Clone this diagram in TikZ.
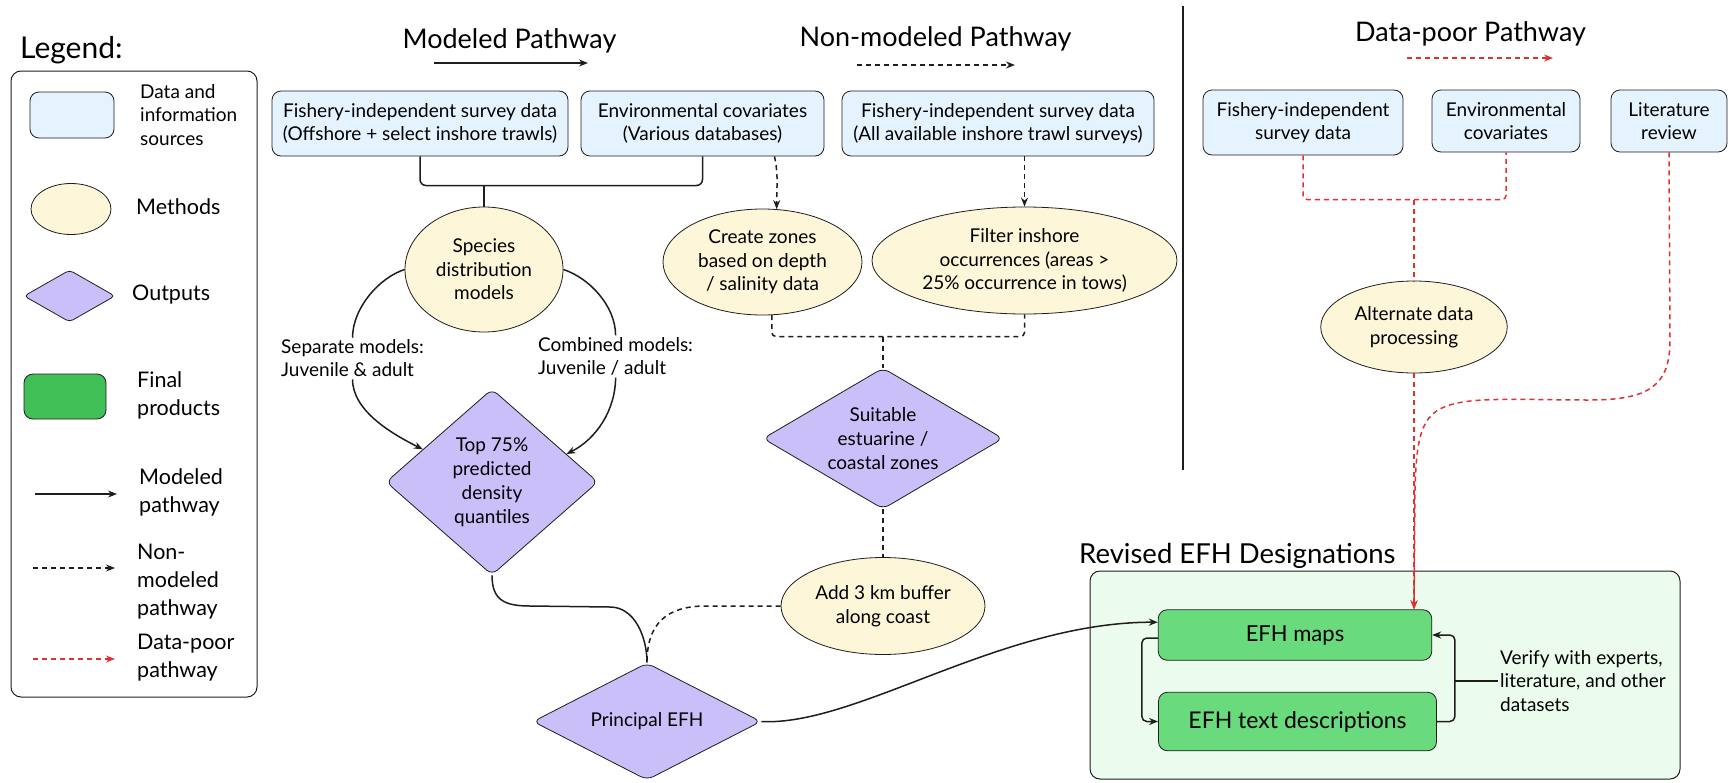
\documentclass[tikz,border=0pt]{standalone}
\usepackage{fontspec}
\setmainfont{Lato}
\usetikzlibrary{shapes.geometric,arrows.meta,calc}
\definecolor{srcfill}{HTML}{E4F3FD}
\definecolor{methfill}{HTML}{FDF6D8}
\definecolor{outfill}{HTML}{CBBFFA}
\definecolor{finfill}{HTML}{69DB7C}
\definecolor{legfin}{HTML}{40C057}
\definecolor{grpfill}{HTML}{EBFBEE}
\definecolor{redc}{HTML}{E03131}
\definecolor{edgec}{HTML}{1E1E1E}
\newcommand\myfs[2]{\fontsize{#1}{#2}\selectfont}
\begin{document}
\begin{tikzpicture}[x=1pt,y=-1pt,
  src/.style={draw=edgec, line width=0.8pt, rounded corners=9pt, fill=srcfill, align=center, font=\myfs{19}{22.5}, inner sep=0pt},
  meth/.style={ellipse, draw=edgec, line width=0.8pt, fill=methfill, align=center, font=\myfs{19}{23.5}, inner sep=0pt},
  outp/.style={diamond, draw=edgec, line width=0.8pt, fill=outfill, rounded corners=7pt, align=center, font=\myfs{19}{24}, inner sep=0pt},
  fin/.style={draw=edgec, line width=0.8pt, rounded corners=9pt, fill=finfill, align=center, inner sep=0pt},
  conn/.style={line width=1.5pt, draw=edgec},
  nonmod/.style={conn, dash pattern=on 5pt off 4pt},
  poor/.style={line width=1.5pt, draw=redc, dash pattern=on 5pt off 4pt},
  tip/.style={-{Stealth[length=9pt,width=7pt]}},
  lbl/.style={align=left, font=\myfs{19}{23}, inner sep=2pt},
  head/.style={font=\myfs{27}{32}, inner sep=0pt},
  legtxt/.style={align=left, anchor=west, font=\myfs{21.5}{28}, inner sep=0pt}]
\useasboundingbox (0,0) rectangle (1730,782);

% ---------- Legend ----------
\node[font=\myfs{30}{36}, anchor=west, inner sep=0pt] (legt) at (20,50) {Legend:};
\node[draw=edgec, line width=1pt, rounded corners=10pt, minimum width=246, minimum height=626, inner sep=0pt] (legbox) at (134,384) {};
\node[src, minimum width=84, minimum height=46] (lsrc) at (72,115) {};
\node[legtxt, font=\myfs{19}{23.5}] (lsrct) at (140,115) {Data and\\information\\sources};
\node[meth, minimum width=80, minimum height=51] (lmeth) at (71,209) {};
\node[legtxt] (lmetht) at (136,207) {Methods};
\node[outp, minimum width=91, minimum height=52, rounded corners=4pt] (lout) at (69.5,296) {};
\node[legtxt] (loutt) at (132,295) {Outputs};
\node[fin, fill=legfin, minimum width=82, minimum height=45] (lfin) at (65,396.5) {};
\node[legtxt] (lfint) at (137,395) {Final\\products};
\coordinate (la1) at (35,494); \coordinate (la2) at (117,494);
\draw[conn, line width=1.1pt, tip] (la1) -- (la2);
\node[legtxt] (lat) at (139,492) {Modeled\\pathway};
\coordinate (lb1) at (33,568); \coordinate (lb2) at (115,568);
\draw[nonmod, line width=1.1pt, tip] (lb1) -- (lb2);
\node[legtxt] (lbt) at (137,582) {Non-\\modeled\\pathway};
\coordinate (lc1) at (33,659); \coordinate (lc2) at (115,659);
\draw[poor, line width=1.1pt, tip] (lc1) -- (lc2);
\node[legtxt] (lct) at (137,658) {Data-poor\\pathway};

% ---------- Headings ----------
\node[head] (hmod) at (509.5,41) {Modeled Pathway};
\coordinate (ha1) at (434,63); \coordinate (ha2) at (588,63);
\draw[conn, tip] (ha1) -- (ha2);
\node[head] (hnon) at (935.5,39) {Non-modeled Pathway};
\coordinate (hb1) at (857,65); \coordinate (hb2) at (1015,65);
\draw[nonmod, tip] (hb1) -- (hb2);
\node[head] (hpoor) at (1470.5,34) {Data-poor Pathway};
\coordinate (hc1) at (1407,58); \coordinate (hc2) at (1553,58);
\draw[poor, tip] (hc1) -- (hc2);
\coordinate (dv1) at (1183,6); \coordinate (dv2) at (1183,470);
\draw[line width=1.3pt, edgec] (dv1) -- (dv2);

% ---------- Sources ----------
\node[src, minimum width=296, minimum height=65] (B1) at (420,123.5) {Fishery-independent survey data\\(Offshore + select inshore trawls)};
\node[src, minimum width=243, minimum height=65] (B2) at (702.5,123.5) {Environmental covariates\\(Various databases)};
\node[src, minimum width=312, minimum height=65] (B3) at (998,123.5) {Fishery-independent survey data\\(All available inshore trawl surveys)};
\node[src, minimum width=200, minimum height=65] (B4) at (1303,122.5) {Fishery-independent\\survey data};
\node[src, minimum width=148, minimum height=62] (B5) at (1506,121) {Environmental\\covariates};
\node[src, minimum width=116, minimum height=62] (B6) at (1669,121) {Literature\\review};

% ---------- Methods ----------
\node[meth, minimum width=158, minimum height=125] (E1) at (484,269.5) {Species\\distribution\\models};
\node[meth, minimum width=199, minimum height=106] (E2) at (762.5,262) {Create zones\\based on depth\\/ salinity data};
\node[meth, minimum width=305, minimum height=107] (E3) at (1024.5,260.5) {Filter inshore\\occurrences (areas >\\25\% occurrence in tows)};
\node[meth, minimum width=186.5, minimum height=92] (E4) at (1414,327) {Alternate data\\processing};
\node[meth, minimum width=204, minimum height=97] (E5) at (883,606) {Add 3 km buffer\\along coast};

% ---------- Outputs ----------
\node[outp, minimum width=212, minimum height=186, shape aspect=1.14] (D1) at (492,482) {Top 75\%\\predicted\\density\\quantiles};
\node[outp, minimum width=240, minimum height=141, shape aspect=1.7] (D2) at (883,438.5) {Suitable\\estuarine /\\coastal zones};
\node[outp, minimum width=228, minimum height=117, shape aspect=1.95] (D3) at (647,721.5) {Principal EFH};

% ---------- Labels ----------
\node[lbl, anchor=west] (L1) at (279,358.5) {Separate models:\\Juvenile \& adult};
\node[lbl, anchor=west] (L2) at (536,356.5) {Combined models:\\Juvenile / adult};

% ---------- Final products ----------
\node[draw=edgec, line width=1pt, rounded corners=10pt, fill=grpfill, minimum width=590, minimum height=208, inner sep=0pt] (grp) at (1385,675) {};
\node[head, anchor=west, font=\myfs{27.5}{32}] (grpt) at (1079,556) {Revised EFH Designations};
\node[fin, minimum width=273.5, minimum height=50.5, font=\myfs{22}{26}] (G1) at (1295,635) {EFH maps};
\node[fin, minimum width=278, minimum height=58.5, font=\myfs{23}{27}] (G2) at (1297.5,721.5) {EFH text descriptions};
\node[lbl, anchor=west, font=\myfs{19}{23.5}] (ver) at (1498,681) {Verify with experts,\\literature, and other\\datasets};

% ---------- Modeled connectors ----------
\coordinate (j1) at (484,185.5);
\draw[conn, rounded corners=6pt] (B1.south) |- (j1) -| (B2.south);
\draw[conn] (j1) -- (E1.north);
\draw[conn] (E1.west) .. controls +(-25,8) and +(0,-30) .. (L1.north);
\draw[conn, tip] (L1.south) .. controls +(0,32) and +(-30,-15) .. ($(D1.west)!0.35!(D1.north)$);
\draw[conn] (E1.east) .. controls +(25,8) and +(0,-30) .. (L2.north);
\draw[conn, tip] (L2.south) .. controls +(0,32) and +(30,-15) .. ($(D1.east)!0.3!(D1.north)$);
\draw[conn] (D1.south) .. controls +(0,25) and +(-25,0) .. (530,606) -- (610,607) .. controls +(25,0) and +(0,-25) .. (D3.north);
\draw[conn, tip] (D3.east) .. controls +(95,5) and +(-158,0) .. ($(G1.north west)!0.25!(G1.south west)$);

% ---------- Non-modeled connectors ----------
\draw[nonmod, tip] ($(B2.south)+(72,0)$) .. controls +(4,20) and +(0,-25) .. (E2.75);
\draw[nonmod, tip] (B3.south -| E3.north) -- (E3.north);
\coordinate (j2) at (883,336.5);
\draw[nonmod, rounded corners=4pt] (E2.280) |- (j2) -| (E3.south);
\draw[nonmod] (j2) -- (D2.north);
\draw[nonmod] (D2.south) -- (E5.north);
\draw[nonmod] (E5.west) -- ++(-75,0) .. controls +(-40,0) and +(0,-38) .. (D3.north);

% ---------- Data-poor connectors ----------
\coordinate (j3) at (1414,199.5);
\draw[poor, rounded corners=4pt] (B4.south) |- (j3) -| (B5.south);
\draw[poor] (j3) -- (E4.north);
\draw[poor, tip] (E4.south) -- (E4.south |- G1.north);
\draw[poor, tip] (B6.south) -- (1670,340) .. controls (1670,385) and (1650,400) .. (1590,400) .. controls (1500,400) and (1448,394) .. (1429,418) .. controls (1418,432) and (1416,455) .. (1415,490) -- (E4.south |- G1.north);

% ---------- Final loop ----------
\draw[conn, tip, rounded corners=5pt] ($(G1.west)+(0,3)$) -- ++(-16,0) |- (G2.west);
\coordinate (rc) at ($(G2.east)+(18,0)$);
\draw[conn, tip, rounded corners=5pt] (G2.east) -- (rc) |- (G1.east);
\draw[conn] (ver.west) -- (rc |- ver.west);
\end{tikzpicture}
\end{document}
